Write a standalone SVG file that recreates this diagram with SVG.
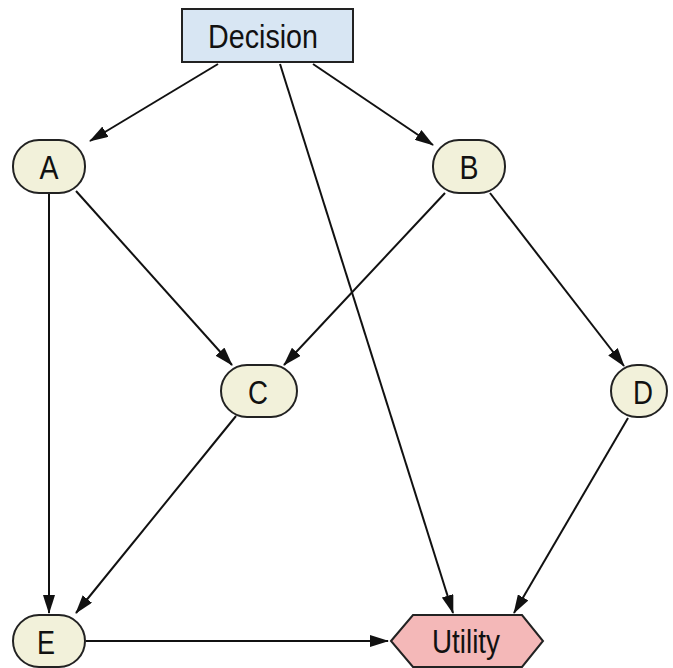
<svg xmlns="http://www.w3.org/2000/svg" width="673" height="668" viewBox="0 0 673 668">
  <style>
    .lbl { font-family: "Liberation Sans", Arial, sans-serif; font-size: 33px; fill: #111; text-anchor: middle; dominant-baseline: central; }
    .chance { fill: #f2f1da; stroke: #222; stroke-width: 2; }
    .decision { fill: #d8e6f3; stroke: #222; stroke-width: 2; }
    .utility { fill: #f4b8b8; stroke: #222; stroke-width: 2; }
    .edge { stroke: #111; stroke-width: 2; fill: none; marker-end: url(#arrow); }
  </style>
  <defs>
    <!-- filled arrowhead, 19px long and 12px wide, tip at the line end -->
    <marker id="arrow" viewBox="0 0 19 12" refX="18" refY="6" markerWidth="19" markerHeight="12" markerUnits="userSpaceOnUse" orient="auto">
      <path d="M0,0 L19,6 L0,12 z" fill="#111"/>
    </marker>
  </defs>
  <rect width="673" height="668" fill="#ffffff"/>

  <g id="connectors">
    <line class="edge" x1="218" y1="64" x2="90" y2="141"/>
    <line class="edge" x1="280" y1="64" x2="453" y2="613"/>
    <line class="edge" x1="313" y1="64" x2="433" y2="145"/>
    <line class="edge" x1="49" y1="193" x2="49" y2="613"/>
    <line class="edge" x1="76" y1="191" x2="232" y2="365"/>
    <line class="edge" x1="445" y1="193" x2="284" y2="365"/>
    <line class="edge" x1="490" y1="193" x2="624" y2="366"/>
    <line class="edge" x1="236" y1="416" x2="76" y2="613"/>
    <line class="edge" x1="628" y1="418" x2="514" y2="613"/>
    <line class="edge" x1="86" y1="641" x2="388" y2="641"/>
  </g>

  <g id="node-decision">
    <rect class="decision" x="182" y="9" width="171" height="53"/>
    <text class="lbl" x="263" y="36" textLength="110" lengthAdjust="spacingAndGlyphs">Decision</text>
  </g>
  <g id="node-a">
    <rect class="chance" x="13" y="140" width="72" height="53" rx="26" ry="26"/>
    <text class="lbl" x="49" y="167" textLength="19" lengthAdjust="spacingAndGlyphs">A</text>
  </g>
  <g id="node-b">
    <rect class="chance" x="433" y="140" width="72" height="53" rx="26" ry="26"/>
    <text class="lbl" x="469" y="167" textLength="19" lengthAdjust="spacingAndGlyphs">B</text>
  </g>
  <g id="node-c">
    <rect class="chance" x="221" y="365" width="76" height="52" rx="26" ry="26"/>
    <text class="lbl" x="258" y="392" textLength="20" lengthAdjust="spacingAndGlyphs">C</text>
  </g>
  <g id="node-d">
    <rect class="chance" x="611" y="365" width="56" height="52" rx="26" ry="26"/>
    <text class="lbl" x="643" y="392" textLength="20" lengthAdjust="spacingAndGlyphs">D</text>
  </g>
  <g id="node-e">
    <rect class="chance" x="13" y="615" width="72" height="52" rx="26" ry="26"/>
    <text class="lbl" x="46" y="642" textLength="18" lengthAdjust="spacingAndGlyphs">E</text>
  </g>
  <g id="node-utility">
    <polygon class="utility" points="391,641 413,615 522,615 543,641 522,667 413,667"/>
    <text class="lbl" x="466" y="641" textLength="68" lengthAdjust="spacingAndGlyphs">Utility</text>
  </g>
</svg>
